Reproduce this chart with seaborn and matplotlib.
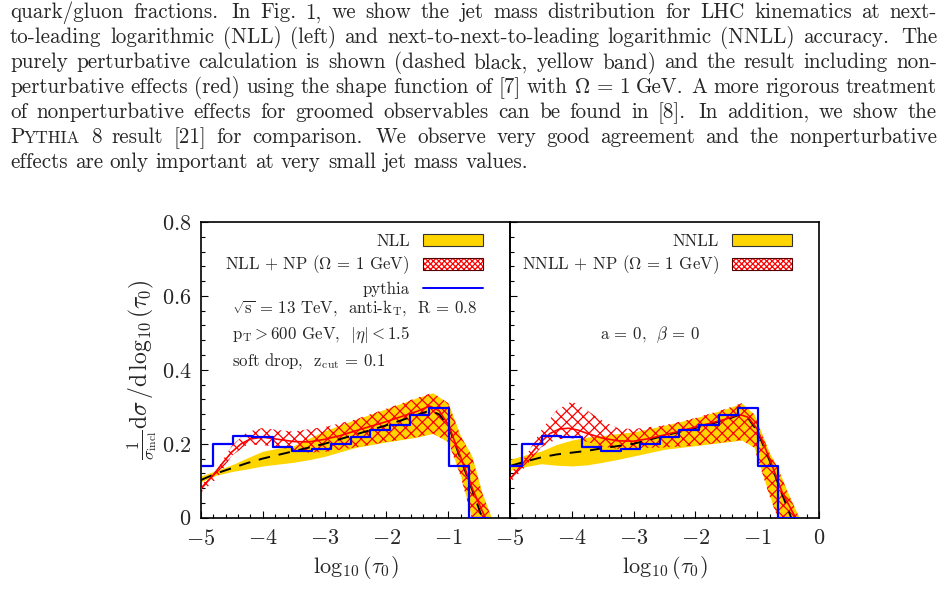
import numpy as np
import pandas as pd
import matplotlib
matplotlib.use("Agg")
import matplotlib.pyplot as plt
import seaborn as sns
from matplotlib.patches import Patch
from matplotlib.lines import Line2D
from matplotlib.ticker import MultipleLocator
from matplotlib.legend_handler import HandlerTuple

# ---------------- data ----------------
PARAGRAPH = [
    "quark/gluon fractions.  In Fig. 1, we show the jet mass distribution for LHC kinematics at next-",
    "to-leading logarithmic (NLL) (left) and next-to-next-to-leading logarithmic (NNLL) accuracy.  The",
    "purely perturbative calculation is shown (dashed black, yellow band) and the result including non-",
    r"perturbative effects (red) using the shape function of [7] with $\Omega$ = 1 GeV.  A more rigorous treatment",
    "of nonperturbative effects for groomed observables can be found in [8].  In addition, we show the",
    "PYTHIA 8 result [21] for comparison.  We observe very good agreement and the nonperturbative",
    "effects are only important at very small jet mass values.",
]

# Pythia histogram (same in both panels)
pythia_edges = [-5.13, -4.81, -4.48, -4.17, -3.84, -3.53, -3.21, -2.90, -2.58,
                -2.26, -1.94, -1.62, -1.31, -0.99, -0.66, -0.34]
pythia_vals = [0.140, 0.200, 0.222, 0.217, 0.191, 0.180, 0.186, 0.200, 0.217,
               0.238, 0.251, 0.277, 0.296, 0.140, 0.0]

# Left panel: NLL
nll_x = [-5.0, -4.75, -4.5, -4.25, -4.0, -3.75, -3.5, -3.25, -3.0, -2.5, -2.0,
         -1.5, -1.25, -1.0, -0.8, -0.62, -0.45, -0.3]
nll_lo = [0.097, 0.115, 0.125, 0.132, 0.140, 0.145, 0.150, 0.157, 0.166, 0.190,
          0.205, 0.218, 0.228, 0.205, 0.113, 0.0, 0.0, 0.0]
nll_hi = [0.113, 0.128, 0.143, 0.162, 0.180, 0.188, 0.195, 0.215, 0.235, 0.266,
          0.295, 0.325, 0.338, 0.310, 0.221, 0.168, 0.066, 0.0]
nllnp_lo = [0.068, 0.105, 0.168, 0.198, 0.196, 0.192, 0.182, 0.176, 0.178, 0.190,
            0.205, 0.218, 0.228, 0.205, 0.113, 0.0, 0.0, 0.0]
nllnp_hi = [0.088, 0.128, 0.195, 0.232, 0.243, 0.237, 0.233, 0.240, 0.245, 0.266,
            0.295, 0.325, 0.338, 0.310, 0.221, 0.168, 0.066, 0.0]
nll_cx = [-5.0, -4.75, -4.5, -4.25, -4.0, -3.75, -3.5, -3.25, -3.0, -2.5, -2.0,
          -1.5, -1.3, -1.15, -1.0, -0.8, -0.6, -0.45]
nll_cy = [0.102, 0.120, 0.134, 0.148, 0.160, 0.170, 0.180, 0.190, 0.200, 0.225,
          0.250, 0.278, 0.290, 0.280, 0.250, 0.160, 0.070, 0.0]
nllnp_cx = [-5.0, -4.9, -4.8, -4.65, -4.5, -4.35, -4.2, -4.0, -3.75, -3.5, -3.25,
            -3.0, -2.75, -2.5, -2.0, -1.5, -1.3, -1.15, -1.0, -0.8, -0.6, -0.4]
nllnp_cy = [0.078, 0.097, 0.116, 0.148, 0.178, 0.200, 0.213, 0.218, 0.212, 0.206,
            0.205, 0.212, 0.222, 0.235, 0.260, 0.288, 0.302, 0.290, 0.252, 0.165,
            0.075, 0.0]

# Right panel: NNLL
nnll_x = [-5.0, -4.75, -4.5, -4.25, -4.0, -3.75, -3.5, -3.25, -3.0, -2.5, -2.0,
          -1.5, -1.25, -1.05, -0.8, -0.67, -0.5, -0.32]
nnll_lo = [0.128, 0.138, 0.146, 0.142, 0.140, 0.143, 0.150, 0.158, 0.167, 0.185,
           0.195, 0.205, 0.210, 0.190, 0.058, 0.0, 0.0, 0.0]
nnll_hi = [0.158, 0.170, 0.180, 0.198, 0.210, 0.218, 0.222, 0.228, 0.232, 0.250,
           0.270, 0.295, 0.310, 0.280, 0.175, 0.135, 0.066, 0.0]
nnllnp_lo = [0.095, 0.138, 0.190, 0.212, 0.215, 0.205, 0.192, 0.186, 0.188, 0.190,
             0.195, 0.205, 0.210, 0.190, 0.058, 0.0, 0.0, 0.0]
nnllnp_hi = [0.120, 0.165, 0.235, 0.290, 0.315, 0.290, 0.262, 0.242, 0.240, 0.250,
             0.270, 0.295, 0.310, 0.280, 0.175, 0.135, 0.066, 0.0]
nnll_cx = [-5.0, -4.75, -4.5, -4.25, -4.0, -3.75, -3.5, -3.25, -3.0, -2.5, -2.0,
           -1.5, -1.3, -1.15, -1.0, -0.8, -0.6, -0.45]
nnll_cy = [0.140, 0.152, 0.163, 0.171, 0.176, 0.181, 0.188, 0.194, 0.200, 0.222,
           0.243, 0.265, 0.278, 0.270, 0.235, 0.155, 0.065, 0.0]
nnllnp_cx = [-5.0, -4.9, -4.8, -4.65, -4.5, -4.35, -4.2, -4.05, -3.9, -3.75, -3.5,
             -3.25, -3.0, -2.75, -2.5, -2.0, -1.5, -1.3, -1.15, -1.0, -0.8, -0.6,
             -0.38]
nnllnp_cy = [0.105, 0.125, 0.145, 0.175, 0.205, 0.228, 0.240, 0.242, 0.237, 0.228,
             0.215, 0.208, 0.207, 0.214, 0.224, 0.245, 0.267, 0.280, 0.272, 0.240,
             0.160, 0.070, 0.0]

x_ticks = [-5, -4, -3, -2, -1, 0]
y_ticks = [0, 0.2, 0.4, 0.6, 0.8]
y_tick_labels = ["0", "0.2", "0.4", "0.6", "0.8"]

legend_left = ["NLL", r"NLL + NP ($\Omega$ = 1 GeV)", "pythia"]
legend_right = ["NNLL", r"NNLL + NP ($\Omega$ = 1 GeV)"]
notes_left = [r"$\sqrt{\mathrm{s}}$ = 13 TeV,  anti-k$_\mathrm{T}$,  R = 0.8",
              r"p$_\mathrm{T}>600$ GeV,  $|\eta|<1.5$",
              r"soft drop,  z$_\mathrm{cut}$ = 0.1"]
note_right = r"a = 0,  $\beta$ = 0"

# ---------------- style ----------------
sns.set_theme(style="white")
plt.rcParams["font.family"] = ["cmr10", "DejaVu Serif"]
plt.rcParams["mathtext.fontset"] = "cm"
plt.rcParams["axes.formatter.use_mathtext"] = True
plt.rcParams["hatch.linewidth"] = 0.9
plt.rcParams["axes.edgecolor"] = "black"
plt.rcParams["axes.linewidth"] = 1.2
plt.rcParams["xtick.direction"] = "in"
plt.rcParams["ytick.direction"] = "in"

GOLD = "#FFD500"
W, H = 946, 612
fig = plt.figure(figsize=(W / 100, H / 100), dpi=100)
renderer = fig.canvas.get_renderer()

# ---------------- justified paragraph ----------------
FS = 15.2
SC_FS = FS * 0.8
SMALLCAPS = {"PYTHIA"}


def measure(s, size):
    t = fig.text(0, 0, s, fontsize=size)
    w = t.get_window_extent(renderer).width
    t.remove()
    return w


def word_width(w):
    if w in SMALLCAPS:
        return measure(w[0], FS) + measure(w[1:], SC_FS)
    return measure(w, FS)


def draw_word(w, x, yb):
    if w in SMALLCAPS:
        fig.text(x / W, 1 - yb / H, w[0], fontsize=FS, va="baseline", ha="left")
        x2 = x + measure(w[0], FS)
        fig.text(x2 / W, 1 - yb / H, w[1:], fontsize=SC_FS, va="baseline", ha="left")
    else:
        fig.text(x / W, 1 - yb / H, w, fontsize=FS, va="baseline", ha="left")


LEFT, RIGHT = 10.0, 937.0
BASE0, LEAD = 18.5, 24.9
space_w = measure("a a", FS) - 2 * measure("a", FS)
for i, line in enumerate(PARAGRAPH):
    words, weights = [], []
    pending = 1.0
    for tok in line.split(" "):
        if tok == "":
            pending += 0.35
            continue
        if words:
            weights.append(pending)
        words.append(tok)
        pending = 1.0
    widths = [word_width(w) for w in words]
    last = i == len(PARAGRAPH) - 1
    if last:
        unit = space_w
    else:
        unit = (RIGHT - LEFT - sum(widths)) / sum(weights)
    x = LEFT
    yb = BASE0 + i * LEAD
    for j, w in enumerate(words):
        draw_word(w, x, yb)
        if j < len(weights):
            x += widths[j] + unit * weights[j]

# ---------------- axes ----------------
ax_l = fig.add_axes([201 / W, (H - 517.7) / H, 309 / W, 295.7 / H])
ax_r = fig.add_axes([510 / W, (H - 517.7) / H, 309 / W, 295.7 / H])

centers = [(a + b) / 2 for a, b in zip(pythia_edges[:-1], pythia_edges[1:])]
pythia_df = pd.DataFrame({"x": centers, "w": pythia_vals})
TFS = 16


def panel(ax, bx, blo, bhi, nplo, nphi, cx, cy, rx, ry):
    ax.fill_between(bx, blo, bhi, color=GOLD, lw=0, zorder=1)
    ax.fill_between(bx, nplo, nphi, facecolor="none", edgecolor="red",
                    hatch="xxx", lw=0, zorder=2)
    sns.lineplot(x=cx, y=cy, ax=ax, color="black", lw=1.4,
                 linestyle=(0, (6, 4.5)), estimator=None, zorder=3)
    sns.lineplot(x=rx, y=ry, ax=ax, color="red", lw=1.2, estimator=None, zorder=4)
    sns.histplot(data=pythia_df, x="x", weights="w", bins=pythia_edges,
                 element="step", fill=False, color="blue", lw=1.6, ax=ax, zorder=5)
    ax.set_xlim(-5, 0)
    ax.set_ylim(0, 0.8)
    ax.set_xticks(x_ticks)
    ax.set_yticks(y_ticks)
    ax.xaxis.set_minor_locator(MultipleLocator(0.2))
    ax.yaxis.set_minor_locator(MultipleLocator(0.04))
    ax.tick_params(which="major", length=5, width=0.8, color="black",
                   bottom=True, left=True, top=False, right=False,
                   labelsize=TFS)
    ax.tick_params(axis="x", which="major", pad=8)
    ax.tick_params(axis="y", which="major", pad=7)
    ax.tick_params(which="minor", length=3, width=0.8, color="black",
                   bottom=True, left=True, top=False, right=False)
    ax.set_xlabel(r"$\log_{10}(\tau_0)$", fontsize=16, labelpad=4)
    ax.set_ylabel("")
    for s in ax.spines.values():
        s.set_color("black")
        s.set_linewidth(1.2)
    ax.set_facecolor("none")


panel(ax_l, nll_x, nll_lo, nll_hi, nllnp_lo, nllnp_hi, nll_cx, nll_cy,
      nllnp_cx, nllnp_cy)
panel(ax_r, nnll_x, nnll_lo, nnll_hi, nnllnp_lo, nnllnp_hi, nnll_cx, nnll_cy,
      nnllnp_cx, nnllnp_cy)

ax_l.set_xticklabels([r"$-5$", r"$-4$", r"$-3$", r"$-2$", r"$-1$", ""])
ax_r.set_xticklabels([r"$-5$", r"$-4$", r"$-3$", r"$-2$", r"$-1$", r"$0$"])
ax_l.set_yticklabels([f"${t}$" for t in y_tick_labels])
ax_r.set_yticklabels([])
ax_l.set_ylabel(r"$\frac{1}{\sigma_{\mathrm{incl}}}\mathrm{d}\sigma\,/\mathrm{d}\,\log_{10}(\tau_0)$",
                fontsize=17, labelpad=2)

# legends
LFS = 12.1


def np_handle():
    return (Patch(facecolor="white", edgecolor="red", hatch="xxxxxx", lw=0),
            Patch(facecolor="none", edgecolor="#550000", lw=0.8))


leg_kw = dict(loc="upper right", bbox_to_anchor=(0.9126, 0.9615), frameon=False,
              markerfirst=False, fontsize=LFS, handlelength=3.57, handleheight=0.71,
              handletextpad=0.78, labelspacing=0.3, borderpad=0, borderaxespad=0,
              handler_map={tuple: HandlerTuple(ndivide=1)})

h_l = [Patch(facecolor=GOLD, edgecolor="#333333", lw=0.8), np_handle(),
       Line2D([], [], color="blue", lw=1.4)]
ax_l.legend(h_l, legend_left, **leg_kw)
h_r = [Patch(facecolor=GOLD, edgecolor="#333333", lw=0.8), np_handle()]
ax_r.legend(h_r, legend_right, **leg_kw)

# annotations
for txt, yy in zip(notes_left, [0.709, 0.618, 0.530]):
    ax_l.text(0.10, yy, txt, transform=ax_l.transAxes, fontsize=LFS,
              va="center", ha="left")
ax_r.text(0.453, 0.618, note_right, transform=ax_r.transAxes, fontsize=LFS,
          va="center", ha="center")

fig.savefig("out.png", dpi=100)
